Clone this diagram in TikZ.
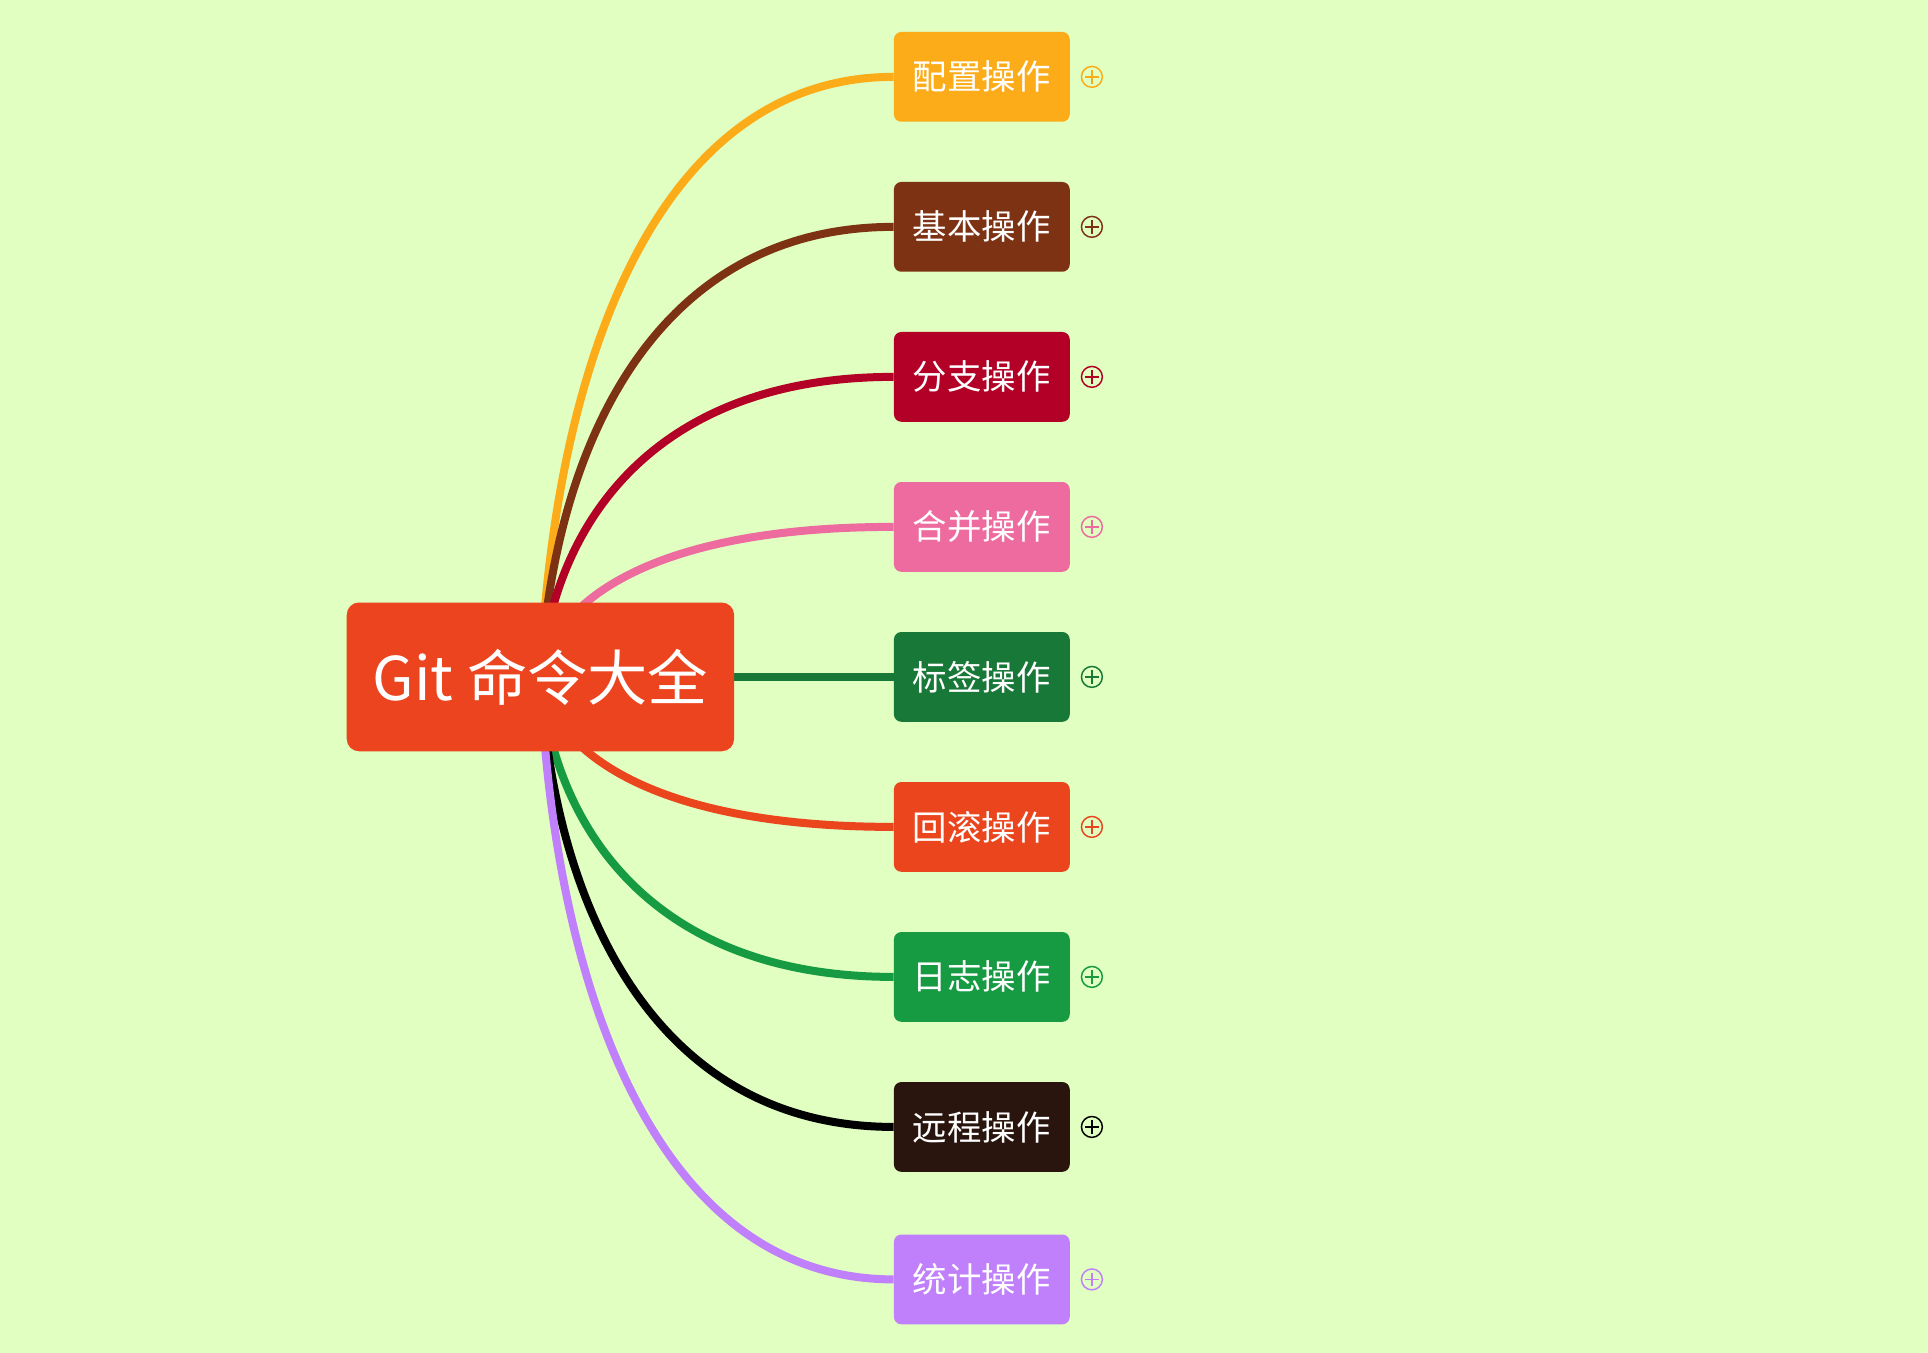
\documentclass[tikz,border=0pt]{standalone}
\usepackage{fontspec}
\setmainfont{Noto Sans CJK SC}
\usetikzlibrary{backgrounds}

\definecolor{canvas}{RGB}{224,255,192}
\definecolor{rootred}{RGB}{235,68,30}
\definecolor{peizhi}{RGB}{251,172,24}
\definecolor{jiben}{RGB}{125,50,20}
\definecolor{fenzhi}{RGB}{179,0,39}
\definecolor{hebing}{RGB}{237,107,158}
\definecolor{biaoqian}{RGB}{24,120,56}
\definecolor{huigun}{RGB}{235,69,30}
\definecolor{rizhi}{RGB}{22,154,66}
\definecolor{yuancheng}{RGB}{42,20,14}
\definecolor{tongji}{RGB}{192,128,252}

\begin{document}
\begin{tikzpicture}[x=1pt, y=-1pt,
		topic/.style={fill=#1, rounded corners=6pt, minimum width=143pt, minimum height=73pt,
			inner sep=0pt, text=white, font=\fontsize{28}{34}\selectfont},
		expander/.style={circle, draw=#1, line width=1.2pt, minimum size=17pt, inner sep=0pt,
			path picture={\draw[#1, line width=1.2pt]
				([xshift=3pt]path picture bounding box.west) -- ([xshift=-3pt]path picture bounding box.east)
				([yshift=-3pt]path picture bounding box.north) -- ([yshift=3pt]path picture bounding box.south);}},
		branch/.style={line width=6.5pt, color=#1}]
	\useasboundingbox (0, 0) rectangle (1568, 1100);

	\node[fill=rootred, rounded corners=10pt, minimum width=315pt, minimum height=121pt, inner sep=0pt,
		text=white, font=\fontsize{49}{58}\selectfont] (git) at (439.5, 550.5) {Git 命令大全};

	\node[topic=peizhi] (peizhi) at (798.5, 62.5) {配置操作};
	\node[topic=jiben] (jiben) at (798.5, 184.5) {基本操作};
	\node[topic=fenzhi] (fenzhi) at (798.5, 306.5) {分支操作};
	\node[topic=hebing] (hebing) at (798.5, 428.5) {合并操作};
	\node[topic=biaoqian] (biaoqian) at (798.5, 550.5) {标签操作};
	\node[topic=huigun] (huigun) at (798.5, 672.5) {回滚操作};
	\node[topic=rizhi] (rizhi) at (798.5, 794.5) {日志操作};
	\node[topic=yuancheng] (yuancheng) at (798.5, 916.5) {远程操作};
	\node[topic=tongji] (tongji) at (798.5, 1040.5) {统计操作};

	\node[expander=peizhi] (peizhi-plus) at (888, 62.5) {};
	\node[expander=jiben] (jiben-plus) at (888, 184.5) {};
	\node[expander=fenzhi] (fenzhi-plus) at (888, 306.5) {};
	\node[expander=hebing] (hebing-plus) at (888, 428.5) {};
	\node[expander=biaoqian] (biaoqian-plus) at (888, 550.5) {};
	\node[expander=huigun] (huigun-plus) at (888, 672.5) {};
	\node[expander=rizhi] (rizhi-plus) at (888, 794.5) {};
	\node[expander=black] (yuancheng-plus) at (888, 916.5) {};
	\node[expander=tongji] (tongji-plus) at (888, 1040.5) {};

	\begin{scope}[on background layer]
		\fill[canvas] (0, 0) rectangle (1568, 1100);
		% branches run under the root box
		\draw[branch=peizhi] (git.center) .. controls (450, 306) and (530, 62.5) .. (peizhi.west);
		\draw[branch=jiben] (git.center) .. controls (450, 367) and (530, 184.5) .. (jiben.west);
		\draw[branch=fenzhi] (git.center) .. controls (450, 428) and (530, 306.5) .. (fenzhi.west);
		\draw[branch=hebing] (git.center) .. controls (450, 489) and (530, 428.5) .. (hebing.west);
		\draw[branch=biaoqian] (git.center) -- (biaoqian.west);
		\draw[branch=huigun] (git.center) .. controls (450, 611) and (530, 672.5) .. (huigun.west);
		\draw[branch=rizhi] (git.center) .. controls (450, 672) and (530, 794.5) .. (rizhi.west);
		\draw[branch=black] (git.center) .. controls (450, 733) and (530, 916.5) .. (yuancheng.west);
		\draw[branch=tongji] (git.center) .. controls (450, 795) and (530, 1040.5) .. (tongji.west);
	\end{scope}
\end{tikzpicture}
\end{document}
